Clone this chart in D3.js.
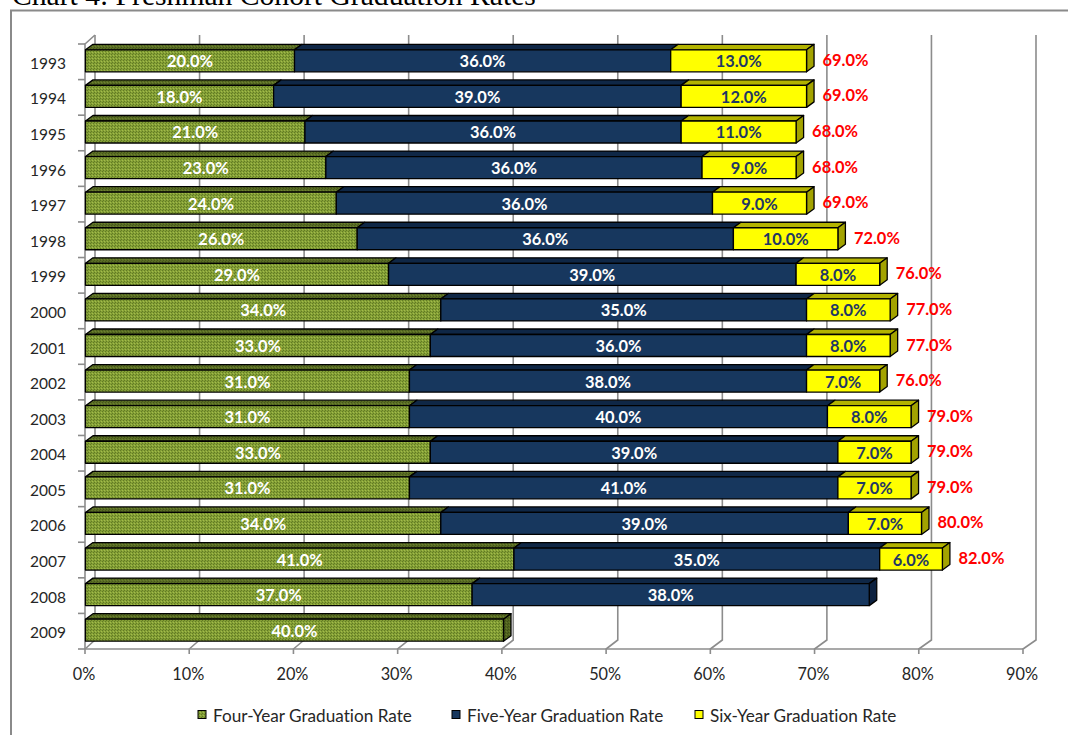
<!DOCTYPE html>
<html><head><meta charset="utf-8">
<script src="https://cdn.jsdelivr.net/npm/d3@7"></script>
<style>body{margin:0;background:#fff;overflow:hidden;} svg{display:block;} text{font-variant-ligatures:none;font-feature-settings:"liga" 0;}</style>
</head><body>
<svg id="c" width="1068" height="735"></svg>
<script>
const years = ["1993","1994","1995","1996","1997","1998","1999","2000","2001","2002","2003","2004","2005","2006","2007","2008","2009"];
const fourYear = [20,18,21,23,24,26,29,34,33,31,31,33,31,34,41,37,40];
const fiveYear = [36,39,36,36,36,36,39,35,36,38,40,39,41,39,35,38,null];
const sixYear  = [13,12,11,9,9,10,8,8,8,7,8,7,7,7,6,null,null];
const totals   = [69,69,68,68,69,72,76,77,77,76,79,79,79,80,82,null,null];
const xTicks = [0,10,20,30,40,50,60,70,80,90];
const seriesNames = ["Four-Year Graduation Rate","Five-Year Graduation Rate","Six-Year Graduation Rate"];
const titleText = "Chart 4: Freshman Cohort Graduation Rates";

const FONT = "Lato, 'Open Sans', sans-serif";
const svg = d3.select("#c");

function fitSize(text, family, weight, target){
  const t = svg.append("text").attr("font-family",family).attr("font-weight",weight).attr("font-size",100).text(text);
  const w = t.node().getComputedTextLength(); t.remove();
  return 100*target/w;
}
const ySize = fitSize("1993", FONT, 400, 36);
const xSize = fitSize("10%", FONT, 400, 32);
const dSize = fitSize("20.0%", FONT, 700, 46);
const lSize = fitSize(seriesNames[0], FONT, 400, 199);
const tSize = fitSize(titleText, "'Liberation Serif', 'Times New Roman', serif", 400, 524);

// patterns
const defs = svg.append("defs");
function pat(id, base, dark, light){
  const p = defs.append("pattern").attr("id",id).attr("patternUnits","userSpaceOnUse").attr("width",3).attr("height",3);
  p.append("rect").attr("width",3).attr("height",3).attr("fill",base);
  p.append("rect").attr("x",0).attr("y",0).attr("width",1).attr("height",1).attr("fill",dark);
  p.append("rect").attr("x",2).attr("y",1).attr("width",1).attr("height",1).attr("fill",light);
  p.append("rect").attr("x",1).attr("y",2).attr("width",1).attr("height",1).attr("fill",dark);
}
pat("gFront","#84a036","#627a24","#a3bb4c");
pat("gTop","#5a6e24","#46561b","#6d8230");
pat("gSide","#52651f","#3f4e18","#63782a");

const colors = [
  {front:"url(#gFront)", top:"url(#gTop)", side:"url(#gSide)", text:"#ffffff"},
  {front:"#17375e", top:"#0f2746", side:"#0c2140", text:"#ffffff"},
  {front:"#ffff00", top:"#b3b300", side:"#a3a300", text:"#1f3864"}
];

// title & border
svg.append("text").attr("x",12).attr("y",5).attr("font-family","'Liberation Serif', 'Times New Roman', serif")
  .attr("font-size",tSize).attr("fill","#000").text(titleText);
svg.append("rect").attr("x",11).attr("y",10.5).attr("width",1200).attr("height",900)
  .attr("fill","none").attr("stroke","#8a8a8a").attr("stroke-width",2);

// scales
const y = d3.scaleBand().domain(years).range([44,649]).padding(0);
const bw = y.bandwidth();
const xF = d3.scaleLinear().domain([0,90]).range([85.5,1026]);
const xB = d3.scaleLinear().domain([0,90]).range([95,1036]);
const xFl = d3.scaleLinear().domain([0,90]).range([85,1023]);
const WALL_TOP = 35, WALL_BOT = 640, FLOOR_FRONT = 649;
const gridColor = "#8c8c8c";

// walls & grid
const grid = svg.append("g").attr("stroke",gridColor).attr("stroke-width",1.6).attr("fill","none");
xTicks.forEach(t=>{
  grid.append("path").attr("d",`M${xB(t)},${WALL_TOP}L${xB(t)},${WALL_BOT}L${xFl(t)},${FLOOR_FRONT}L${xFl(t)},${FLOOR_FRONT+5}`);
});
grid.append("path").attr("d",`M${xFl(0)},${FLOOR_FRONT}L${xFl(90)},${FLOOR_FRONT}`);
grid.append("path").attr("d",`M${xB(0)},${WALL_TOP}L${xFl(0)},${44}L${xFl(0)},${FLOOR_FRONT}`);
d3.range(years.length+1).forEach(i=>{
  const yy = 44 + i*bw;
  grid.append("path").attr("d",`M${xFl(0)-7},${yy}L${xFl(0)},${yy}`);
});

// axis labels
svg.append("g").selectAll("text").data(years).join("text")
  .attr("x",66).attr("y",d=>y(d)+bw/2+1).attr("text-anchor","end").attr("dominant-baseline","central")
  .attr("font-family",FONT).attr("font-size",ySize).attr("fill","#262626").text(d=>d);
svg.append("g").selectAll("text").data(xTicks).join("text")
  .attr("x",d=>xFl(d)-1).attr("y",673).attr("text-anchor","middle").attr("dominant-baseline","central")
  .attr("font-family",FONT).attr("font-size",xSize).attr("fill","#262626").text(d=>d+"%");

// bars
const DX = 7.5, DY = 5.5, FH = 22, OFF = 5.8;
const bars = svg.append("g");
const labels = svg.append("g");
years.forEach((yr,i)=>{
  const vals = [fourYear[i], fiveYear[i], sixYear[i]];
  const y0 = y(yr) + OFF;
  let acc = 0;
  const segs = [];
  vals.forEach((v,k)=>{ if(v!=null){ segs.push({k, v0:acc, v1:acc+v, v}); acc += v; } });
  const g = bars.append("g").attr("stroke","#000").attr("stroke-width",1.3).attr("stroke-linejoin","round");
  segs.forEach(s=>{
    const a = xF(s.v0), b = xF(s.v1);
    g.append("path").attr("d",`M${a},${y0}L${a+DX},${y0-DY}L${b+DX},${y0-DY}L${b},${y0}Z`).attr("fill",colors[s.k].top);
  });
  const last = segs[segs.length-1];
  const e = xF(last.v1);
  g.append("path").attr("d",`M${e},${y0}L${e+DX},${y0-DY}L${e+DX},${y0+FH-DY}L${e},${y0+FH}Z`).attr("fill",colors[last.k].side);
  segs.forEach(s=>{
    const a = xF(s.v0), b = xF(s.v1);
    g.append("rect").attr("x",a).attr("y",y0).attr("width",b-a).attr("height",FH).attr("fill",colors[s.k].front);
    labels.append("text").attr("x",(a+b)/2).attr("y",y0+FH/2+0.5).attr("text-anchor","middle").attr("dominant-baseline","central")
      .attr("font-family",FONT).attr("font-weight",700).attr("font-size",dSize).attr("fill",colors[s.k].text)
      .text(s.v.toFixed(1)+"%");
  });
  if(totals[i]!=null){
    labels.append("text").attr("x",xF(totals[i])+16).attr("y",y0+FH/2-1).attr("dominant-baseline","central")
      .attr("font-family",FONT).attr("font-weight",700).attr("font-size",dSize).attr("fill","#ff0000")
      .text(totals[i].toFixed(1)+"%");
  }
});

// legend
const legX = [198, 452, 695];
const leg = svg.append("g");
seriesNames.forEach((n,k)=>{
  leg.append("rect").attr("x",legX[k]).attr("y",710.5).attr("width",8).attr("height",8)
    .attr("fill",colors[k].front).attr("stroke","#000").attr("stroke-width",1);
  leg.append("text").attr("x",legX[k]+15).attr("y",715).attr("dominant-baseline","central")
    .attr("font-family",FONT).attr("font-size",lSize).attr("fill","#262626").text(n);
});
</script>
</body></html>
